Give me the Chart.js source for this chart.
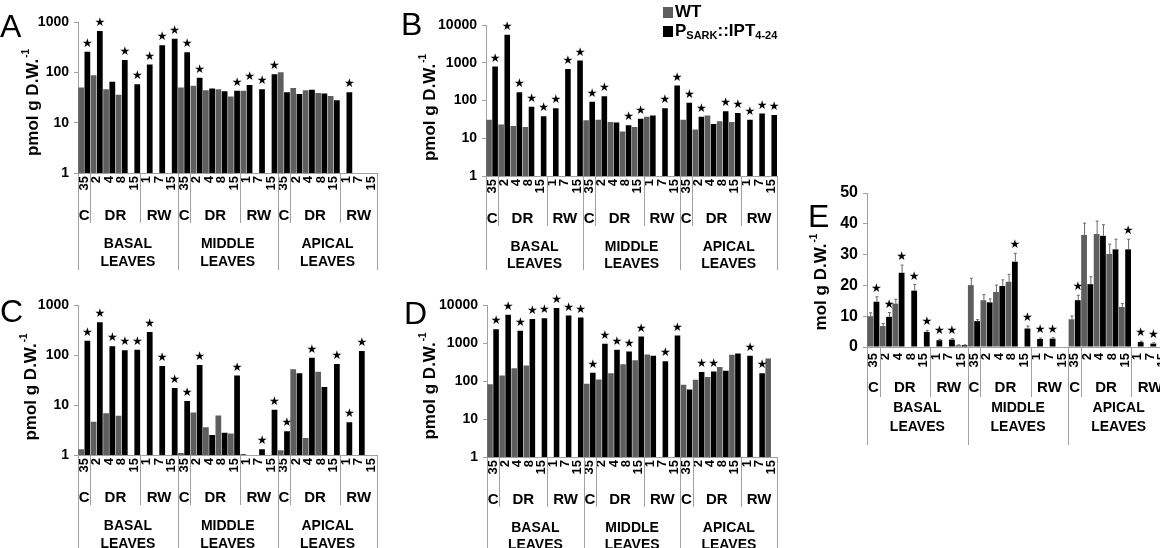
<!DOCTYPE html>
<html>
<head>
<meta charset="utf-8">
<script src="https://cdn.jsdelivr.net/npm/chart.js@4.4.1/dist/chart.umd.min.js"></script>
<style>
  html, body { margin: 0; padding: 0; width: 1160px; height: 548px; overflow: hidden; background: #fff; }
  body { position: relative; font-family: "Liberation Sans", Arial, sans-serif; }
  canvas { position: absolute; }
  .letter { position: absolute; font-size: 32px; line-height: 1; color: #000; }
  .legend { position: absolute; font-weight: bold; font-size: 17px; line-height: 19px; color: #000; }
  .legend div { white-space: nowrap; }
  .legend sub { font-size: 11px; vertical-align: -3px; }
  .sw { display: inline-block; width: 10px; height: 11px; margin-right: 2px; vertical-align: -1px; }
</style>
</head>
<body>
<canvas id="chartA"></canvas>
<canvas id="chartB"></canvas>
<canvas id="chartC"></canvas>
<canvas id="chartD"></canvas>
<canvas id="chartE"></canvas>

<div class="letter" style="left:0px;top:10px">A</div>
<div class="letter" style="left:401px;top:8px">B</div>
<div class="letter" style="left:0px;top:295px">C</div>
<div class="letter" style="left:404px;top:297px">D</div>
<div class="letter" style="left:808px;top:200px">E</div>

<div class="legend" style="left:663px;top:2px">
  <div><span class="sw" style="background:#5e5e5e"></span>WT</div>
  <div><span class="sw" style="background:#000"></span>P<sub>SARK</sub>::IPT<sub>4-24</sub></div>
</div>

<script>
const timeLabels = ["35", "2", "4", "8", "15", "1", "7", "15"];
const phases = [["C", 1], ["DR", 4], ["RW", 3]];
const leaves = [["BASAL", "LEAVES"], ["MIDDLE", "LEAVES"], ["APICAL", "LEAVES"]];
const categories = leaves.flatMap(() => timeLabels);

// A
const aTicks = [1, 10, 100, 1000];
const aWT = [50, 88, 46, 36, null, null, null, null, 50, 54, 44, 46, 33, 43, null, null, 100, 49, 44, 39, 34, null, null, null];
const aIPT = [255, 660, 65, 175, 58, 143, 345, 465, 250, 78, 48, 42, 43, 56, 46, 92, 40, 37, 45, 38, 28, 40, null, null];
const aStar = [1, 1, 0, 1, 1, 1, 1, 1, 1, 1, 0, 0, 1, 1, 1, 1, 0, 0, 0, 0, 0, 1, 0, 0];

// B
const bTicks = [1, 10, 100, 1000, 10000];
const bWT = [31, 23, 21, 20, null, null, null, null, 30, 31, 27, 15, 20, 37, null, null, 31, 17, 40, 28, 27, null, null, null];
const bIPT = [800, 5500, 165, 68, 38, 62, 680, 1150, 92, 130, 26, 22, 33, 40, 62, 250, 87, 37, 24, 52, 47, 31, 45, 41];
const bStar = [1, 1, 1, 1, 1, 1, 1, 1, 1, 1, 0, 1, 1, 0, 1, 1, 1, 1, 0, 1, 1, 1, 1, 1];

// C
const cTicks = [1, 10, 100, 1000];
const cWT = [1.3, 4.6, 6.8, 6.1, null, null, null, null, 1.1, 7.1, 3.6, 6.2, 2.7, 1.05, null, null, 1.25, 52, 2.2, 46, null, null, null, null];
const cIPT = [193, 450, 150, 125, 128, 290, 60, 22, 12, 63, 2.5, 2.8, 39, null, 1.3, 8, 3, 43, 88, 23, 66, 4.5, 120, null];
const cStar = [1, 1, 1, 1, 1, 1, 1, 1, 1, 1, 0, 0, 1, 0, 1, 1, 1, 0, 1, 0, 1, 1, 1, 0];

// D
const dTicks = [1, 10, 100, 1000, 10000];
const dWT = [82, 140, 215, 255, null, null, null, null, 85, 110, 160, 275, 350, 495, null, null, 80, 108, 128, 232, 490, null, null, 390];
const dIPT = [2300, 5500, 2100, 4300, 4500, 8300, 5300, 4700, 165, 960, 660, 600, 1480, 465, 330, 1570, 60, 172, 178, 185, 530, 460, 160, null];
const dStar = [1, 1, 1, 1, 1, 1, 1, 1, 1, 1, 1, 1, 1, 0, 1, 1, 0, 1, 1, 0, 0, 1, 1, 0];

// E
const eTicks = [0, 10, 20, 30, 40, 50];
const eWT = [10.0, 6.8, 14.1, null, null, null, null, 0.6, 20.1, 15.2, 17.9, 21.2, null, null, null, null, 9.0, 36.4, 36.7, 30.2, 13.0, null, null, null];
const eIPT = [14.7, 9.8, 24.1, 18.3, 4.9, 2.2, 2.4, 0.6, 8.4, 14.5, 19.8, 27.7, 6.0, 2.6, 2.7, null, 15.2, 20.4, 36.1, 31.7, 31.7, 1.6, 1.1, null];
const eWTErr = [1.1, 0.8, 1.4, null, null, null, null, 0.1, 2.2, 1.8, 2.2, 2.4, null, null, null, null, 1.1, 3.8, 4.2, 3.2, 1.1, null, null, null];
const eIPTErr = [1.6, 1.4, 2.5, 2.0, 0.5, 0.3, 0.3, 0.1, 0.5, 1.1, 2.0, 2.7, 0.8, 0.3, 0.3, null, 1.6, 2.4, 3.6, 3.3, 3.3, 0.3, 0.3, null];
const eStar = [1, 1, 1, 1, 1, 1, 1, 0, 0, 0, 0, 1, 1, 1, 1, 0, 1, 0, 0, 0, 1, 1, 1, 0];

const FONT = "'Liberation Sans', Arial, sans-serif";
const WT_COLOR = "#5e5e5e";
const LINE_COLOR = "#a0a0a0";

// draws stars, error bars, the group brackets under the axis and the y title
const decor = {
  id: "decor",
  afterDatasetsDraw(chart, _args, o) {
    const { ctx } = chart;
    const y = chart.scales.y;
    const sets = chart.data.datasets;
    ctx.save();
    ctx.strokeStyle = "#6a6a6a";
    ctx.lineWidth = 1;
    [o.errWT, o.errIPT].forEach((err, di) => {
      if (!err) return;
      const meta = chart.getDatasetMeta(di);
      err.forEach((e, i) => {
        const v = sets[di].data[i];
        if (e == null || v == null) return;
        const bx = meta.data[i].x + 0.5;
        const top = y.getPixelForValue(v + e);
        ctx.beginPath();
        ctx.moveTo(bx, meta.data[i].y);
        ctx.lineTo(bx, top);
        ctx.moveTo(bx - 1.5, top);
        ctx.lineTo(bx + 1.5, top);
        ctx.stroke();
      });
    });
    ctx.fillStyle = "#000";
    ctx.font = "12px 'DejaVu Sans'";
    ctx.textAlign = "center";
    ctx.textBaseline = "middle";
    const meta = chart.getDatasetMeta(1);
    o.star.forEach((s, i) => {
      const v = sets[1].data[i];
      if (!s || v == null) return;
      let top = meta.data[i].y;
      if (o.errIPT && o.errIPT[i]) top = y.getPixelForValue(v + o.errIPT[i]);
      ctx.fillText("★", meta.data[i].x, top - 8);
    });
    ctx.restore();
  },
  afterDraw(chart, _args, o) {
    const { ctx, chartArea } = chart;
    const xs = chart.scales.x;
    const step = (xs.right - xs.left) / categories.length;
    const base = chartArea.bottom;
    ctx.save();
    ctx.strokeStyle = LINE_COLOR;
    ctx.lineWidth = 1;
    ctx.fillStyle = "#000";
    ctx.textAlign = "center";
    ctx.textBaseline = "middle";
    const vline = (x, len) => {
      const px = Math.round(x) + 0.5;
      ctx.beginPath();
      ctx.moveTo(px, base);
      ctx.lineTo(px, base + len);
      ctx.stroke();
    };
    let idx = 0;
    leaves.forEach((leaf) => {
      const start = idx;
      phases.forEach(([name, span], pi) => {
        const x0 = xs.left + idx * step;
        vline(x0, pi === 0 ? o.longLen : o.shortLen);
        ctx.font = "bold 15px " + FONT;
        ctx.fillText(name, x0 + (span * step) / 2, base + o.rows[0]);
        idx += span;
      });
      const cx = xs.left + (start + 4) * step;
      ctx.font = "bold 14px " + FONT;
      ctx.fillText(leaf[0], cx, base + o.rows[1]);
      ctx.fillText(leaf[1], cx, base + o.rows[2]);
    });
    vline(xs.right, o.longLen);

    // y axis title with superscript
    ctx.translate(o.titleX, (chartArea.top + chartArea.bottom) / 2 + o.titleDy);
    ctx.rotate(-Math.PI / 2);
    ctx.textAlign = "left";
    ctx.font = "bold 17px " + FONT;
    const wMain = ctx.measureText(o.title).width;
    ctx.font = "bold 10px " + FONT;
    const wSup = ctx.measureText("-1").width;
    const x0 = -(wMain + wSup + 1) / 2;
    ctx.font = "bold 17px " + FONT;
    ctx.fillText(o.title, x0, 0);
    ctx.font = "bold 10px " + FONT;
    ctx.fillText("-1", x0 + wMain + 1, -7);
    ctx.restore();
  },
};

const panels = [
  { id: "chartA", wt: aWT, ipt: aIPT, star: aStar, ticks: aTicks, log: true, title: "pmol g D.W.",
    canvas: [0, 0, 390, 270], plot: [78, 22, 380, 173], rows: [43, 71, 89], titleX: 33, titleDy: 5 },
  { id: "chartB", wt: bWT, ipt: bIPT, star: bStar, ticks: bTicks, log: true, title: "pmol g D.W.",
    canvas: [400, 0, 390, 270], plot: [486, 25, 780, 176], rows: [43, 71, 88], titleX: 30, titleDy: 7 },
  { id: "chartC", wt: cWT, ipt: cIPT, star: cStar, ticks: cTicks, log: true, title: "pmol g D.W.",
    canvas: [0, 270, 390, 278], plot: [78, 305, 380, 455], rows: [43, 71, 89], titleX: 31, titleDy: 7 },
  { id: "chartD", wt: dWT, ipt: dIPT, star: dStar, ticks: dTicks, log: true, title: "pmol g D.W.",
    canvas: [400, 270, 390, 278], plot: [487, 305, 780, 457], rows: [43, 71, 88], titleX: 30, titleDy: 5 },
  { id: "chartE", wt: eWT, ipt: eIPT, star: eStar, ticks: eTicks, log: false, title: "mol g D.W.",
    errWT: eWTErr, errIPT: eIPTErr,
    canvas: [800, 170, 400, 275], plot: [867, 193, 1169, 347], rows: [41, 61, 80], titleX: 21, titleDy: 12 },
];

panels.forEach((p) => {
  const [cl, ct, cw, ch] = p.canvas;
  const [pl, pt, pr, pb] = p.plot;
  const el = document.getElementById(p.id);
  el.width = cw;
  el.height = ch;
  el.style.left = cl + "px";
  el.style.top = ct + "px";

  const yScale = p.log
    ? { type: "logarithmic", min: p.ticks[0], max: p.ticks[p.ticks.length - 1],
        afterBuildTicks: (s) => { s.ticks = p.ticks.map((v) => ({ value: v })); } }
    : { type: "linear", min: p.ticks[0], max: p.ticks[p.ticks.length - 1] };

  yScale.ticks = {
    stepSize: 10, padding: 5, color: "#000",
    font: { family: FONT, size: p.log ? 14 : 16, weight: "bold" },
    callback: (v) => String(v),
  };

  new Chart(el, {
    type: "bar",
    data: {
      labels: categories,
      datasets: [
        { label: "WT", data: p.wt, backgroundColor: WT_COLOR, barPercentage: 0.92, categoryPercentage: 1 },
        { label: "PSARK::IPT4-24", data: p.ipt, backgroundColor: "#000", barPercentage: 0.92, categoryPercentage: 1 },
      ],
    },
    options: {
      responsive: false,
      animation: false,
      events: [],
      layout: { padding: { top: pt - ct, right: cl + cw - pr, left: 0, bottom: 0 } },
      plugins: {
        legend: { display: false },
        tooltip: { enabled: false },
        decor: { star: p.star, errWT: p.errWT, errIPT: p.errIPT, rows: p.rows, shortLen: 50,
                 longLen: ch - (pb - ct), title: p.title, titleX: p.titleX, titleDy: p.titleDy },
      },
      scales: {
        x: {
          grid: { display: true, drawOnChartArea: false, drawTicks: false },
          border: { display: true, color: LINE_COLOR },
          ticks: { autoSkip: false, minRotation: 90, maxRotation: 90, padding: p.log ? 3 : 6,
                   color: "#000", font: { family: FONT, size: 13, weight: "bold" } },
          afterFit: (s) => { s.height = ct + ch - pb; },
        },
        y: Object.assign(yScale, {
          grid: { display: true, drawOnChartArea: false, drawTicks: true, tickLength: 4, color: LINE_COLOR },
          border: { display: true, color: LINE_COLOR },
          afterFit: (s) => { s.width = pl - cl; },
        }),
      },
    },
    plugins: [decor],
  });
});
</script>
</body>
</html>
